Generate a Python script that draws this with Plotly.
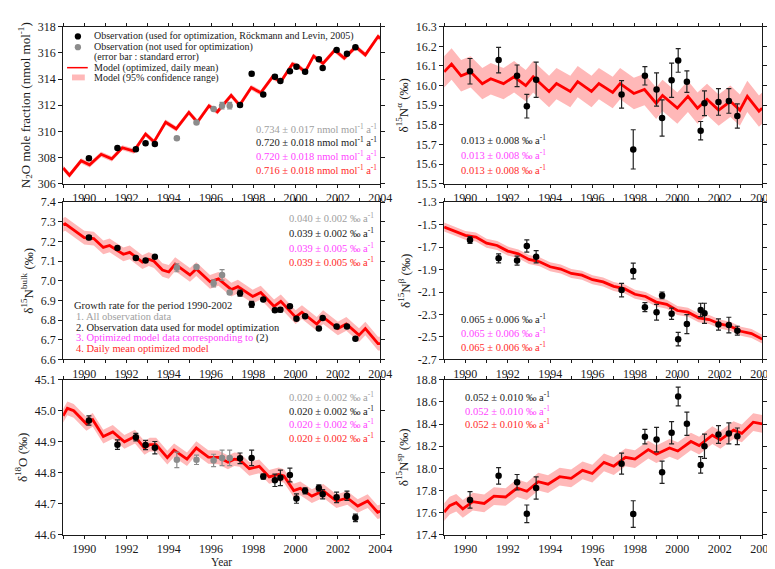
import plotly.graph_objects as go

# ---------------- data ----------------
obs_year = [1990.22, 1991.57, 1992.44, 1992.90, 1993.34, 1997.37, 1997.92, 1998.47, 1999.02,
            1999.28, 1999.73, 2000.04, 2000.45, 2001.10, 2001.28, 2001.94, 2002.43, 2002.83]
gray_year = [1994.38, 1995.31, 1996.12, 1996.52, 1996.88]

# N2O mole fraction
n2o_obs = [307.94, 308.73, 308.63, 309.10, 309.03, 312.01, 314.40, 312.81, 314.18,
           313.85, 314.60, 314.94, 314.55, 315.52, 314.85, 316.21, 315.94, 316.43]
n2o_err = [0.12, 0.10, 0.10, 0.12, 0.10, 0.12, 0.15, 0.10, 0.12, 0.10, 0.10, 0.10, 0.10,
           0.12, 0.10, 0.10, 0.10, 0.10]
n2o_gray = [309.48, 310.67, 311.71, 311.96, 311.96]
n2o_gray_err = [0.12, 0.08, 0.08, 0.25, 0.25]
n2o_mt = [1989.0, 1989.3, 1989.85, 1990.25, 1990.8, 1991.3, 1991.8, 1992.35, 1992.9, 1993.3,
          1993.85, 1994.35, 1994.95, 1995.35, 1995.9, 1996.3, 1996.95, 1997.35, 1997.9, 1998.35,
          1998.9, 1999.3, 1999.85, 2000.15, 2000.45, 2000.85, 2001.3, 2001.85, 2002.3, 2002.85,
          2003.3, 2003.9, 2004.0]
n2o_mv = [307.2, 306.65, 307.75, 307.45, 308.25, 307.9, 308.75, 308.5, 309.8, 309.2,
          310.7, 310.2, 311.45, 310.7, 311.95, 311.5, 312.75, 312.0, 313.35, 312.95,
          314.15, 313.8, 315.15, 314.95, 314.55, 315.75, 315.2, 316.2, 315.6, 316.45,
          315.85, 317.25, 317.1]

# delta15N alpha
alpha_obs = [16.073, 16.13, 16.05, 15.895, 16.03, 15.955, 15.675, 16.05, 15.98, 15.835,
             16.027, 16.128, 16.02, 15.77, 15.91, 15.917, 15.922, 15.845]
alpha_err = [0.065, 0.065, 0.055, 0.06, 0.09, 0.07, 0.1, 0.047, 0.085, 0.092, 0.087, 0.06,
             0.055, 0.047, 0.063, 0.068, 0.063, 0.062]
alpha_mt = [1989.0, 1989.35, 1989.8, 1990.25, 1990.8, 1991.2, 1991.8, 1992.3, 1992.85, 1993.2,
            1993.95, 1994.3, 1994.95, 1995.3, 1995.95, 1996.3, 1996.95, 1997.3, 1997.95, 1998.45,
            1999.0, 1999.3, 2000.0, 2000.5, 2000.95, 2001.4, 2001.95, 2002.5, 2002.95, 2003.3,
            2003.85, 2004.0]
alpha_mv = [16.07, 16.11, 16.05, 16.07, 16.01, 16.035, 16.01, 16.045, 16.0, 16.045,
            15.97, 16.01, 15.97, 16.02, 15.97, 16.01, 15.965, 16.01, 15.96, 15.98,
            15.91, 15.95, 15.885, 15.945, 15.885, 15.93, 15.875, 15.92, 15.875, 15.945,
            15.87, 15.885]

# delta15N bulk
bulk_obs = [7.22, 7.167, 7.116, 7.103, 7.122, 6.937, 6.88, 6.905, 6.85, 6.852, 6.87, 6.807,
            6.82, 6.757, 6.81, 6.767, 6.767, 6.705]
bulk_err = [0.01, 0.005, 0.006, 0.006, 0.005, 0.015, 0.015, 0.006, 0.01, 0.01, 0.006, 0.006,
            0.008, 0.006, 0.006, 0.006, 0.005, 0.006]
bulk_gray = [7.066, 7.07, 6.987, 7.03, 6.94]
bulk_gray_err = [0.02, 0.006, 0.018, 0.027, 0.008]
bulk_mt = [1989.0, 1989.1, 1990.0, 1990.45, 1990.9, 1991.2, 1991.85, 1992.15, 1992.75, 1993.05,
           1993.3, 1993.7, 1994.0, 1994.3, 1995.0, 1995.3, 1995.95, 1996.35, 1996.96, 1997.27,
           1997.97, 1998.35, 1998.98, 1999.3, 2000.0, 2000.3, 2001.0, 2001.3, 2002.0, 2002.4,
           2003.0, 2003.3, 2003.9, 2004.0]
bulk_mv = [7.285, 7.29, 7.22, 7.215, 7.17, 7.18, 7.135, 7.145, 7.095, 7.11,
           7.10, 7.055, 7.045, 7.085, 7.03, 7.06, 6.995, 7.01, 6.955, 6.97,
           6.92, 6.94, 6.87, 6.895, 6.815, 6.84, 6.78, 6.815, 6.757, 6.78,
           6.723, 6.757, 6.68, 6.68]

# delta15N beta
beta_obs = [-1.637, -1.80, -1.82, -1.69, -1.786, -2.083, -1.912, -2.235, -2.28, -2.13,
            -2.294, -2.52, -2.386, -2.26, -2.29, -2.389, -2.395, -2.445]
beta_err = [0.03, 0.04, 0.04, 0.055, 0.055, 0.06, 0.07, 0.04, 0.07, 0.03, 0.05, 0.06, 0.085,
            0.06, 0.09, 0.05, 0.07, 0.04]
beta_mt = [1989.0, 1989.5, 1990.0, 1990.5, 1991.0, 1991.5, 1992.0, 1992.5, 1993.0, 1993.5,
           1994.0, 1994.5, 1995.0, 1995.5, 1996.0, 1996.5, 1997.0, 1997.5, 1998.0, 1998.5,
           1999.0, 1999.5, 2000.0, 2000.5, 2001.0, 2001.5, 2002.0, 2002.5, 2003.0, 2003.5, 2004.0]
beta_mv = [-1.52, -1.555, -1.595, -1.61, -1.665, -1.685, -1.735, -1.76, -1.81, -1.83,
           -1.875, -1.895, -1.935, -1.95, -1.99, -2.01, -2.05, -2.07, -2.12, -2.14,
           -2.19, -2.21, -2.265, -2.28, -2.33, -2.345, -2.385, -2.405, -2.45, -2.47, -2.52]

# delta18O
o18_obs = [44.969, 44.891, 44.915, 44.89, 44.881, 44.847, 44.848, 44.788, 44.776, 44.784,
           44.793, 44.717, 44.742, 44.751, 44.731, 44.721, 44.726, 44.655]
o18_err = [0.015, 0.015, 0.012, 0.015, 0.02, 0.017, 0.025, 0.008, 0.02, 0.025, 0.022, 0.015,
           0.01, 0.01, 0.015, 0.017, 0.015, 0.012]
o18_gray = [44.842, 44.842, 44.84, 44.848, 44.848]
o18_gray_err = [0.025, 0.015, 0.02, 0.025, 0.025]
o18_mt = [1989.0, 1989.2, 1989.5, 1990.1, 1990.4, 1990.9, 1991.35, 1991.9, 1992.4, 1992.85,
          1993.1, 1993.4, 1993.93, 1994.25, 1994.86, 1995.3, 1995.87, 1996.34, 1996.8, 1997.1,
          1997.35, 1997.81, 1998.28, 1998.75, 1999.2, 1999.45, 1999.91, 2000.22, 2000.77, 2001.31,
          2001.93, 2002.45, 2002.94, 2003.41, 2003.88, 2004.0]
o18_mv = [44.984, 45.008, 45.0, 44.958, 44.971, 44.917, 44.932, 44.90, 44.917, 44.88,
          44.891, 44.891, 44.849, 44.873, 44.844, 44.88, 44.851, 44.85, 44.834, 44.844,
          44.842, 44.813, 44.821, 44.787, 44.795, 44.79, 44.743, 44.75, 44.725, 44.742,
          44.709, 44.719, 44.693, 44.709, 44.673, 44.676]

# delta15N site preference
sp_obs = [17.716, 17.933, 17.875, 17.59, 17.823, 18.043, 17.588, 18.287, 18.26, 17.965,
          18.322, 18.649, 18.403, 18.032, 18.2, 18.307, 18.316, 18.29]
sp_err = [0.075, 0.075, 0.07, 0.08, 0.1, 0.095, 0.12, 0.065, 0.11, 0.1, 0.1, 0.085, 0.105,
          0.075, 0.11, 0.08, 0.095, 0.075]
sp_mt = [1989.0, 1989.26, 1989.57, 1989.88, 1990.35, 1990.89, 1991.35, 1991.9, 1992.44, 1992.9,
         1993.44, 1993.9, 1994.45, 1994.99, 1995.53, 1995.99, 1996.54, 1997.0, 1997.55, 1998.0,
         1998.63, 1999.01, 1999.63, 2000.02, 2000.64, 2001.03, 2001.65, 2002.03, 2002.65, 2003.04,
         2003.58, 2004.0]
sp_mv = [17.606, 17.664, 17.69, 17.635, 17.70, 17.684, 17.75, 17.742, 17.823, 17.794,
         17.88, 17.858, 17.925, 17.91, 17.983, 17.954, 18.055, 18.02, 18.10, 18.084,
         18.17, 18.128, 18.185, 18.157, 18.243, 18.206, 18.30, 18.258, 18.345, 18.316,
         18.417, 18.403]

# 95% confidence half-widths of the model
ci_half = {"n2o": 0.2, "alpha": 0.08, "bulk": 0.035, "beta": 0.04, "o18": 0.022, "sp": 0.08}

# growth-rate texts (gray: all obs, black: obs used, magenta: model at obs, red: daily model)
rate_n2o = ["0.734 ± 0.017", "0.720 ± 0.018", "0.720 ± 0.018", "0.716 ± 0.018"]
rate_alpha = [None, "0.013 ± 0.008", "0.013 ± 0.008", "0.013 ± 0.008"]
rate_bulk = ["0.040 ± 0.002", "0.039 ± 0.002", "0.039 ± 0.005", "0.039 ± 0.005"]
rate_beta = [None, "0.065 ± 0.006", "0.065 ± 0.006", "0.065 ± 0.006"]
rate_o18 = ["0.020 ± 0.002", "0.020 ± 0.002", "0.020 ± 0.002", "0.020 ± 0.002"]
rate_sp = [None, "0.052 ± 0.010", "0.052 ± 0.010", "0.052 ± 0.010"]

x_ticks = [1990, 1992, 1994, 1996, 1998, 2000, 2002, 2004]

# ---------------- styling / layout ----------------
W, H = 775, 569
FONT = "Liberation Serif, Times New Roman, serif"
RED = "#ff0000"
PINK = "#ffb8b8"
GRAY = "#8c8c8c"
TXT_GRAY = "#a0a0a0"
MAG = "#ff44ff"
TXT_RED = "#ff2a2a"
INK = "#1a1a1a"

cols = [(56, 378), (443, 766)]
rows = [(12, 173), (192, 353), (374, 533)]

panels = [
    dict(key="n2o", col=0, row=0, obs=n2o_obs, err=n2o_err, gray=n2o_gray, gerr=n2o_gray_err,
         mt=n2o_mt, mv=n2o_mv, yr=[306, 318], dt=2, fmt="d",
         title="N<sub>2</sub>O mole fraction (nmol mol<sup>-1</sup>)"),
    dict(key="alpha", col=1, row=0, obs=alpha_obs, err=alpha_err, gray=None, gerr=None,
         mt=alpha_mt, mv=alpha_mv, yr=[15.5, 16.3], dt=0.1, fmt=".1f",
         title="δ<sup>15</sup>N<sup>α</sup> (‰)"),
    dict(key="bulk", col=0, row=1, obs=bulk_obs, err=bulk_err, gray=bulk_gray, gerr=bulk_gray_err,
         mt=bulk_mt, mv=bulk_mv, yr=[6.6, 7.4], dt=0.1, fmt=".1f",
         title="δ<sup>15</sup>N<sup>bulk</sup> (‰)"),
    dict(key="beta", col=1, row=1, obs=beta_obs, err=beta_err, gray=None, gerr=None,
         mt=beta_mt, mv=beta_mv, yr=[-2.7, -1.3], dt=0.2, fmt=".1f",
         title="δ<sup>15</sup>N<sup>β</sup> (‰)"),
    dict(key="o18", col=0, row=2, obs=o18_obs, err=o18_err, gray=o18_gray, gerr=o18_gray_err,
         mt=o18_mt, mv=o18_mv, yr=[44.6, 45.1], dt=0.1, fmt=".1f",
         title="δ<sup>18</sup>O (‰)"),
    dict(key="sp", col=1, row=2, obs=sp_obs, err=sp_err, gray=None, gerr=None,
         mt=sp_mt, mv=sp_mv, yr=[17.4, 18.8], dt=0.2, fmt=".1f",
         title="δ<sup>15</sup>N<sup>sp</sup> (‰)"),
]

fig = go.Figure()
layout = dict(width=W, height=H, margin=dict(l=0, r=0, t=0, b=0),
              paper_bgcolor="white", plot_bgcolor="white",
              font=dict(family=FONT, size=12, color=INK), showlegend=False)

ann = []

for i, p in enumerate(panels, start=1):
    xa = "x" if i == 1 else f"x{i}"
    ya = "y" if i == 1 else f"y{i}"
    x0, x1 = cols[p["col"]]
    y0, y1 = rows[p["row"]]
    hw = ci_half[p["key"]]
    upper = [v + hw for v in p["mv"]]
    lower = [v - hw for v in p["mv"]]
    fig.add_trace(go.Scatter(x=p["mt"] + p["mt"][::-1], y=upper + lower[::-1],
                             fill="toself", fillcolor=PINK, line=dict(width=0),
                             mode="lines", hoverinfo="skip", xaxis=xa, yaxis=ya))
    fig.add_trace(go.Scatter(x=p["mt"], y=p["mv"], mode="lines",
                             line=dict(color=RED, width=2.8), xaxis=xa, yaxis=ya))
    if p["gray"] is not None:
        fig.add_trace(go.Scatter(x=gray_year, y=p["gray"], mode="markers",
                                 marker=dict(color=GRAY, size=6.5),
                                 error_y=dict(type="data", array=p["gerr"], color=GRAY,
                                              thickness=1.2, width=2.5),
                                 xaxis=xa, yaxis=ya))
    fig.add_trace(go.Scatter(x=obs_year, y=p["obs"], mode="markers",
                             marker=dict(color="black", size=6.5),
                             error_y=dict(type="data", array=p["err"], color="#222222",
                                          thickness=1.2, width=2.5),
                             xaxis=xa, yaxis=ya))

    xkey = "xaxis" if i == 1 else f"xaxis{i}"
    ykey = "yaxis" if i == 1 else f"yaxis{i}"
    layout[xkey] = dict(domain=[x0 / W, x1 / W], anchor=ya, range=[1989, 2004],
                        tickvals=x_ticks, ticks="outside", ticklen=3, tickwidth=1,
                        tickcolor=INK, showline=True, linecolor=INK, linewidth=1,
                        mirror="allticks", showgrid=False, zeroline=False,
                        tickfont=dict(size=12, family=FONT, color=INK),
                        minor=dict(dtick=1, tick0=1989, ticks="outside", ticklen=3,
                                   tickcolor=INK, showgrid=False))
    if p["row"] == 2:
        ann.append(dict(x=(x0 + x1) / 2 / W, y=1 - 561 / H, xref="paper", yref="paper",
                        text="Year", showarrow=False, xanchor="center", yanchor="middle",
                        borderpad=0, font=dict(size=11.5, family=FONT, color=INK)))
    ytv = []
    v = p["yr"][0]
    while v <= p["yr"][1] + 1e-9:
        ytv.append(round(v, 3))
        v += p["dt"]
    ytt = [format(t, p["fmt"]) if p["fmt"] != "d" else str(int(round(t))) for t in ytv]
    layout[ykey] = dict(domain=[1 - y1 / H, 1 - y0 / H], anchor=xa, range=p["yr"],
                        tickvals=ytv, ticktext=ytt, ticks="outside", ticklen=4,
                        tickcolor=INK, showline=True, linecolor=INK, linewidth=1,
                        mirror="allticks", showgrid=False, zeroline=False,
                        tickfont=dict(size=12, family=FONT, color=INK),
                        title=dict(text=p["title"], standoff=4,
                                   font=dict(size=13, family=FONT, color=INK)))

fig.update_layout(**layout)


# ---------------- annotations ----------------
def txt(x, y, s, color, size=10):
    ann.append(dict(x=x / W, y=1 - y / H, xref="paper", yref="paper", text=s,
                    showarrow=False, xanchor="left", yanchor="middle", borderpad=0,
                    font=dict(family=FONT, size=size, color=color)))


rate_colors = [TXT_GRAY, INK, MAG, TXT_RED]


def rates(x, ys, vals, unit):
    k = 0
    for val, c in zip(vals, rate_colors):
        if val is None:
            continue
        txt(x, ys[k], f"{val} {unit}", c, 10.5)
        k += 1


unit_n2o = "nmol mol<sup>-1</sup> a<sup>-1</sup>"
unit_d = "‰ a<sup>-1</sup>"
rates(251, [116, 130, 144, 158], rate_n2o, unit_n2o)
rates(459, [128, 143, 158], rate_alpha, unit_d)
rates(284, [208, 223, 238, 253], rate_bulk, unit_d)
rates(459, [311, 325, 340], rate_beta, unit_d)
rates(284, [391, 405, 419, 433], rate_o18, unit_d)
rates(463, [391, 405, 419], rate_sp, unit_d)

# growth-rate legend (middle-left)
txt(66, 298, "Growth rate for the period 1990-2002", INK, 10.5)
txt(68, 309, "1. All observation data", TXT_GRAY, 10.5)
txt(68, 320, "2. Observation data used for model optimization", INK, 10.5)
txt(68, 331, "3. Optimized model data corresponding to <span style='color:#1a1a1a'>(2)</span>", MAG, 10.5)
txt(68, 342, "4. Daily mean optimized model", TXT_RED, 10.5)

# main legend (top-left)
txt(86, 22, "Observation (used for optimization, Röckmann and Levin, 2005)", INK)
txt(86, 33, "Observation (not used for optimization)", INK)
txt(86, 43, "(error bar : standard error)", INK)
txt(86, 54, "Model (optimized, daily mean)", INK)
txt(86, 64.5, "Model (95% confidence range)", INK)

shapes = []


def circ(cx, cy, r, color):
    shapes.append(dict(type="circle", xref="paper", yref="paper",
                       x0=(cx - r) / W, x1=(cx + r) / W, y0=1 - (cy + r) / H, y1=1 - (cy - r) / H,
                       fillcolor=color, line=dict(width=0)))


circ(71, 22, 3.2, "black")
circ(71, 33, 3.2, GRAY)
shapes.append(dict(type="line", xref="paper", yref="paper", x0=60 / W, x1=81 / W,
                   y0=1 - 54 / H, y1=1 - 54 / H, line=dict(color=RED, width=1.5)))
shapes.append(dict(type="rect", xref="paper", yref="paper", x0=65 / W, x1=78 / W,
                   y0=1 - 67 / H, y1=1 - 61 / H, fillcolor=PINK, line=dict(width=0)))

fig.update_layout(annotations=ann, shapes=shapes)
fig.write_html("out.html")
